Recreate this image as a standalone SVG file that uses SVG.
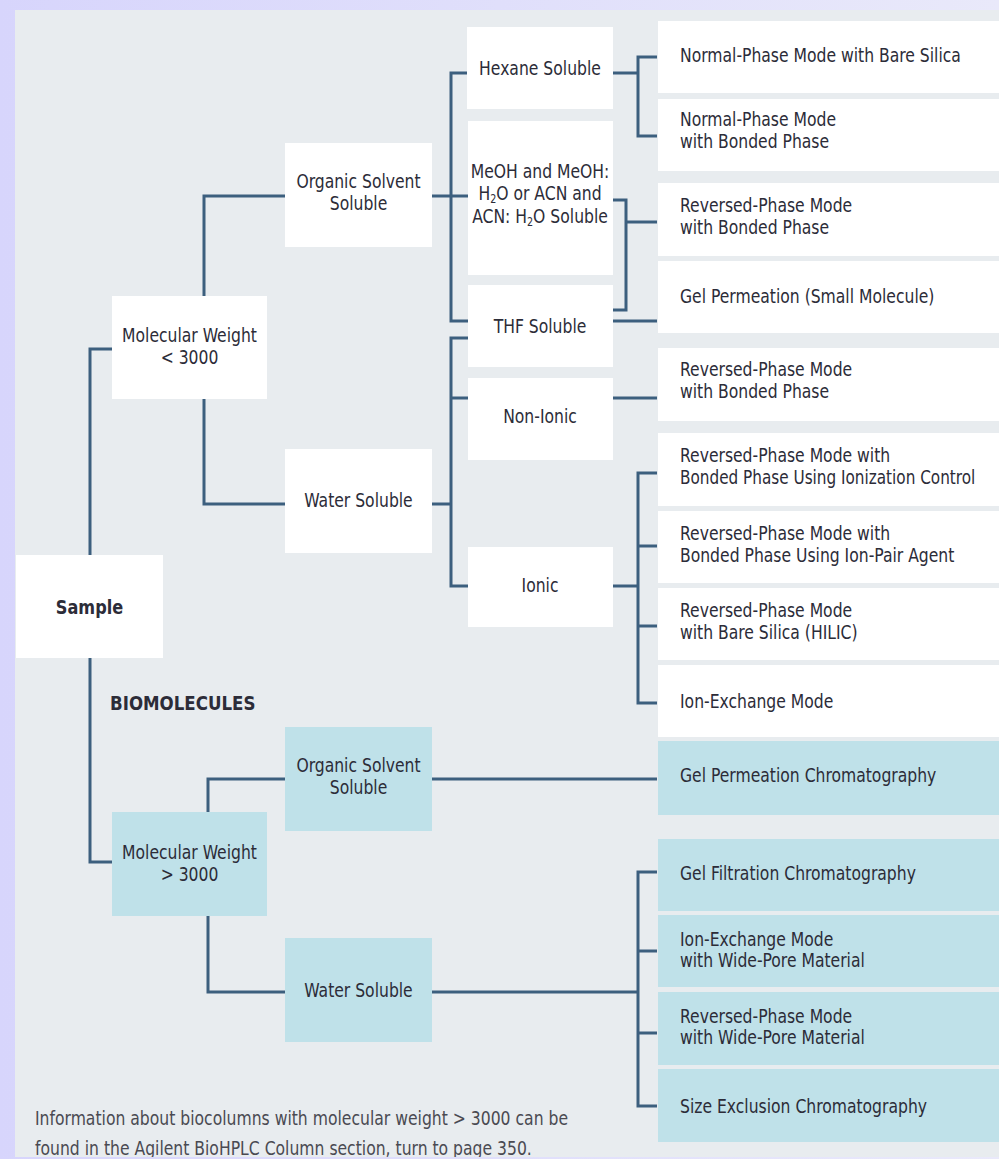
<svg xmlns="http://www.w3.org/2000/svg" width="999" height="1159" viewBox="0 0 999 1159">
<defs>
<linearGradient id="lav" x1="0" y1="0" x2="1" y2="0">
<stop offset="0" stop-color="#d7d5fc"/>
<stop offset="1" stop-color="#e9e9fa"/>
</linearGradient>
<style>
.w{fill:#ffffff}
.b{fill:#bfe1e9}
.c{fill:none;stroke:#3c5f7e;stroke-width:3;stroke-linejoin:miter;stroke-linecap:butt}
text{font-family:"Liberation Sans Narrow","DejaVu Sans Condensed","Liberation Sans",sans-serif;font-size:19.5px;fill:#2c2c38}
.m{text-anchor:middle}
.bold{font-weight:bold}
.foot{font-size:19px;fill:#4a4a52}
.sub{font-size:12px}
</style>
</defs>
<rect x="0" y="0" width="999" height="1159" fill="url(#lav)"/>
<rect x="15" y="10" width="984" height="1147" fill="#e8ecef"/>

<g id="connectors">
<path class="c" d="M90,555 V349 H112"/>
<path class="c" d="M90,658 V862 H112"/>
<path class="c" d="M204,296 V196 H285"/>
<path class="c" d="M204,399 V504 H285"/>
<path class="c" d="M432,196 H451"/>
<path class="c" d="M467,73 H451 V321 H468"/>
<path class="c" d="M451,196 H468"/>
<path class="c" d="M432,504 H451"/>
<path class="c" d="M468,338 H451 V586 H468"/>
<path class="c" d="M451,398 H468"/>
<path class="c" d="M613,73 H638"/>
<path class="c" d="M657,57 H638 V136 H657"/>
<path class="c" d="M613,200 H626 V310 H613"/>
<path class="c" d="M626,222 H657"/>
<path class="c" d="M613,321 H657"/>
<path class="c" d="M613,398 H657"/>
<path class="c" d="M613,586 H638"/>
<path class="c" d="M657,473 H638 V703 H657"/>
<path class="c" d="M638,546 H657"/>
<path class="c" d="M638,626 H657"/>
<path class="c" d="M208,812 V779 H285"/>
<path class="c" d="M432,779 H657"/>
<path class="c" d="M208,916 V992 H285"/>
<path class="c" d="M432,992 H638"/>
<path class="c" d="M657,872 H638 V1106 H657"/>
<path class="c" d="M638,951 H657"/>
<path class="c" d="M638,1033 H657"/>
</g>

<g id="sample"><rect class="w" x="16" y="555" width="147" height="103"/><text class="m bold" x="0" y="614" transform="translate(89.5 0) scale(0.92 1)">Sample</text></g>
<g id="mw-low"><rect class="w" x="112" y="296" width="155" height="103"/><text class="m" x="0" y="342" transform="translate(189.5 0) scale(0.89 1)">Molecular Weight</text><text class="m" x="0" y="364" transform="translate(189.5 0) scale(0.89 1)">&lt; 3000</text></g>
<g id="organic-low"><rect class="w" x="285" y="143" width="147" height="104"/><text class="m" x="0" y="188" transform="translate(358.5 0) scale(0.89 1)">Organic Solvent</text><text class="m" x="0" y="210" transform="translate(358.5 0) scale(0.89 1)">Soluble</text></g>
<g id="water-low"><rect class="w" x="285" y="449" width="147" height="104"/><text class="m" x="0" y="507" transform="translate(358.5 0) scale(0.89 1)">Water Soluble</text></g>
<g id="hexane"><rect class="w" x="467" y="27" width="146" height="82"/><text class="m" x="0" y="75" transform="translate(540 0) scale(0.89 1)">Hexane Soluble</text></g>
<g id="meoh"><rect class="w" x="468" y="121" width="145" height="154"/>
<text class="m" x="0" y="178" transform="translate(540 0) scale(0.89 1)">MeOH and MeOH:</text>
<text class="m" x="0" y="200" transform="translate(540 0) scale(0.89 1)">H<tspan class="sub" dy="3">2</tspan><tspan dy="-3">O or ACN and</tspan></text>
<text class="m" x="0" y="223" transform="translate(540 0) scale(0.89 1)">ACN: H<tspan class="sub" dy="3">2</tspan><tspan dy="-3">O Soluble</tspan></text></g>
<g id="thf"><rect class="w" x="468" y="285" width="145" height="82"/><text class="m" x="0" y="333" transform="translate(540 0) scale(0.89 1)">THF Soluble</text></g>
<g id="nonionic"><rect class="w" x="468" y="378" width="145" height="82"/><text class="m" x="0" y="423" transform="translate(540 0) scale(0.89 1)">Non-Ionic</text></g>
<g id="ionic"><rect class="w" x="468" y="547" width="145" height="80"/><text class="m" x="0" y="592" transform="translate(540 0) scale(0.89 1)">Ionic</text></g>

<g id="np-bare"><rect class="w" x="658" y="21" width="341" height="72"/><text x="0" y="62" transform="translate(680 0) scale(0.89 1)">Normal-Phase Mode with Bare Silica</text></g>
<g id="np-bonded"><rect class="w" x="658" y="99" width="341" height="72"/><text x="0" y="126" transform="translate(680 0) scale(0.89 1)">Normal-Phase Mode</text><text x="0" y="148" transform="translate(680 0) scale(0.89 1)">with Bonded Phase</text></g>
<g id="rp-bonded-1"><rect class="w" x="658" y="183" width="341" height="73"/><text x="0" y="212" transform="translate(680 0) scale(0.89 1)">Reversed-Phase Mode</text><text x="0" y="234" transform="translate(680 0) scale(0.89 1)">with Bonded Phase</text></g>
<g id="gel-small"><rect class="w" x="658" y="261" width="341" height="72"/><text x="0" y="303" transform="translate(680 0) scale(0.89 1)">Gel Permeation (Small Molecule)</text></g>
<g id="rp-bonded-2"><rect class="w" x="658" y="348" width="341" height="73"/><text x="0" y="376" transform="translate(680 0) scale(0.89 1)">Reversed-Phase Mode</text><text x="0" y="398" transform="translate(680 0) scale(0.89 1)">with Bonded Phase</text></g>
<g id="rp-ion-ctrl"><rect class="w" x="658" y="433" width="341" height="73"/><text x="0" y="462" transform="translate(680 0) scale(0.89 1)">Reversed-Phase Mode with</text><text x="0" y="484" transform="translate(680 0) scale(0.87 1)">Bonded Phase Using Ionization Control</text></g>
<g id="rp-ion-pair"><rect class="w" x="658" y="511" width="341" height="72"/><text x="0" y="540" transform="translate(680 0) scale(0.89 1)">Reversed-Phase Mode with</text><text x="0" y="562" transform="translate(680 0) scale(0.89 1)">Bonded Phase Using Ion-Pair Agent</text></g>
<g id="rp-hilic"><rect class="w" x="658" y="588" width="341" height="72"/><text x="0" y="617" transform="translate(680 0) scale(0.89 1)">Reversed-Phase Mode</text><text x="0" y="639" transform="translate(680 0) scale(0.89 1)">with Bare Silica (HILIC)</text></g>
<g id="ion-exchange"><rect class="w" x="658" y="665" width="341" height="72"/><text x="0" y="708" transform="translate(680 0) scale(0.89 1)">Ion-Exchange Mode</text></g>

<text class="bold" x="0" y="710" transform="translate(110 0) scale(0.95 1)">BIOMOLECULES</text>

<g id="mw-high"><rect class="b" x="112" y="812" width="155" height="104"/><text class="m" x="0" y="859" transform="translate(189.5 0) scale(0.89 1)">Molecular Weight</text><text class="m" x="0" y="881" transform="translate(189.5 0) scale(0.89 1)">&gt; 3000</text></g>
<g id="organic-high"><rect class="b" x="285" y="727" width="147" height="104"/><text class="m" x="0" y="772" transform="translate(358.5 0) scale(0.89 1)">Organic Solvent</text><text class="m" x="0" y="794" transform="translate(358.5 0) scale(0.89 1)">Soluble</text></g>
<g id="water-high"><rect class="b" x="285" y="938" width="147" height="104"/><text class="m" x="0" y="997" transform="translate(358.5 0) scale(0.89 1)">Water Soluble</text></g>
<g id="gel-perm"><rect class="b" x="658" y="741" width="341" height="74"/><text x="0" y="782" transform="translate(680 0) scale(0.89 1)">Gel Permeation Chromatography</text></g>
<g id="gel-filt"><rect class="b" x="658" y="839" width="341" height="72"/><text x="0" y="880" transform="translate(680 0) scale(0.89 1)">Gel Filtration Chromatography</text></g>
<g id="ie-wide"><rect class="b" x="658" y="915" width="341" height="72"/><text x="0" y="946" transform="translate(680 0) scale(0.89 1)">Ion-Exchange Mode</text><text x="0" y="967" transform="translate(680 0) scale(0.89 1)">with Wide-Pore Material</text></g>
<g id="rp-wide"><rect class="b" x="658" y="992" width="341" height="73"/><text x="0" y="1023" transform="translate(680 0) scale(0.89 1)">Reversed-Phase Mode</text><text x="0" y="1044" transform="translate(680 0) scale(0.89 1)">with Wide-Pore Material</text></g>
<g id="sec"><rect class="b" x="658" y="1069" width="341" height="73"/><text x="0" y="1113" transform="translate(680 0) scale(0.89 1)">Size Exclusion Chromatography</text></g>

<text class="foot" x="0" y="1125" transform="translate(35 0) scale(0.914 1)">Information about biocolumns with molecular weight &gt; 3000 can be</text>
<text class="foot" x="0" y="1155" transform="translate(35 0) scale(0.914 1)">found in the Agilent BioHPLC Column section, turn to page 350.</text>
<rect x="0" y="1157" width="999" height="2" fill="url(#lav)"/>
</svg>
